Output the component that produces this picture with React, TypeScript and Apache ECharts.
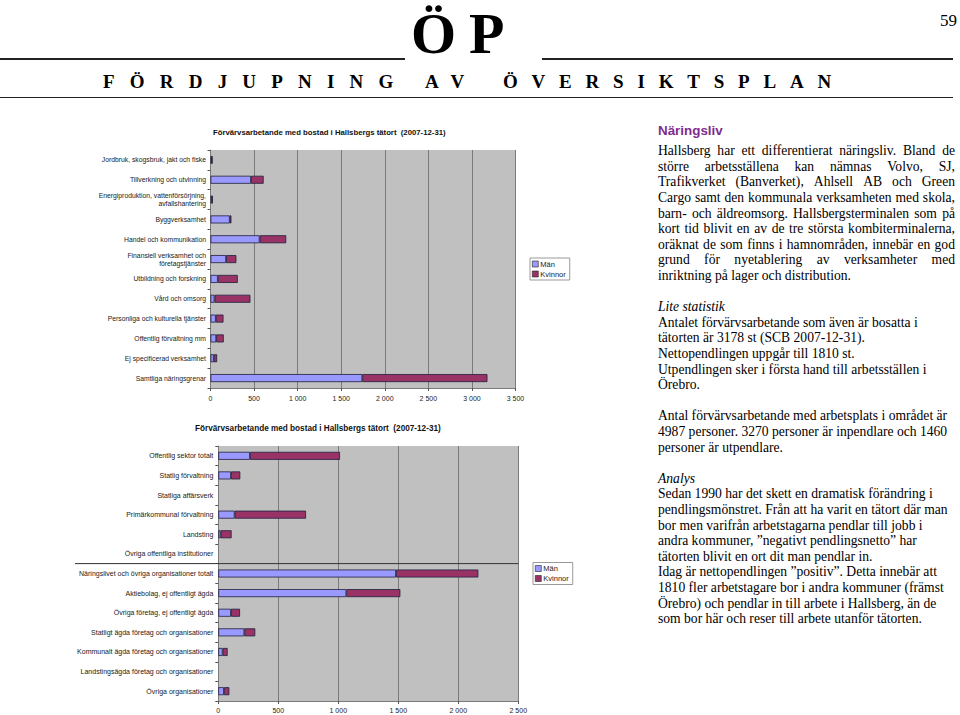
import React, { useEffect, useRef } from "react";
import * as echarts from "echarts";

// ---------- DATA ----------
const industryCategories = [
  "Jordbruk, skogsbruk, jakt och fiske",
  "Tillverkning och utvinning",
  "Energiproduktion, vattenförsörjning,\navfallshantering",
  "Byggverksamhet",
  "Handel och kommunikation",
  "Finansiell verksamhet och\nföretagstjänster",
  "Utbildning och forskning",
  "Vård och omsorg",
  "Personliga och kulturella tjänster",
  "Offentlig förvaltning mm",
  "Ej specificerad verksamhet",
  "Samtliga näringsgrenar",
];
const industryMen = [15, 465, 18, 221, 564, 179, 84, 46, 61, 65, 38, 1742];
const industryWomen = [8, 145, 6, 19, 305, 118, 229, 412, 88, 87, 38, 1436];
const industryTicks = [0, 500, 1000, 1500, 2000, 2500, 3000, 3500];

const sectorCategories = [
  "Offentlig sektor totalt",
  "Statlig förvaltning",
  "Statliga affärsverk",
  "Primärkommunal förvaltning",
  "Landsting",
  "Övriga offentliga institutioner",
  "Näringslivet och övriga organisationer totalt",
  "Aktiebolag, ej offentligt ägda",
  "Övriga företag, ej offentligt ägda",
  "Statligt ägda företag och organisationer",
  "Kommunalt ägda företag och organisationer",
  "Landstingsägda företag och organisationer",
  "Övriga organisationer",
];
const sectorMen = [264, 106, 0, 136, 19, 0, 1481, 1067, 106, 217, 36, 0, 47];
const sectorWomen = [750, 77, 0, 595, 92, 0, 686, 450, 75, 91, 42, 0, 45];
const sectorTicks = [0, 500, 1000, 1500, 2000, 2500];

const seriesNames = ["Män", "Kvinnor"];
const chartTitle = "Förvärvsarbetande med bostad i Hallsbergs tätort  (2007-12-31)";

const headerLetters = "Ö P";
const headerWords = ["FÖRDJUPNING", "AV", "ÖVERSIKTSPLAN"];
const pageNumber = "59";
const sectionHeading = "Näringsliv";

// kind: j = justified, l = left, i = italic, b = blank
const bodyLines: [string, string][] = [
  ["j", "Hallsberg har ett differentierat näringsliv. Bland de"],
  ["j", "större arbetsställena kan nämnas Volvo, SJ,"],
  ["j", "Trafikverket (Banverket), Ahlsell AB och Green"],
  ["j", "Cargo samt den kommunala verksamheten med skola,"],
  ["j", "barn- och äldreomsorg. Hallsbergsterminalen som på"],
  ["j", "kort tid blivit en av de tre största kombiterminalerna,"],
  ["j", "oräknat de som finns i hamnområden, innebär en god"],
  ["j", "grund för nyetablering av verksamheter med"],
  ["l", "inriktning på lager och distribution."],
  ["b", ""],
  ["i", "Lite statistik"],
  ["l", "Antalet förvärvsarbetande som även är bosatta i"],
  ["l", "tätorten är 3178 st (SCB 2007-12-31)."],
  ["l", "Nettopendlingen uppgår till 1810 st."],
  ["l", "Utpendlingen sker i första hand till arbetsställen i"],
  ["l", "Örebro."],
  ["b", ""],
  ["l", "Antal förvärvsarbetande med arbetsplats i området är"],
  ["l", "4987 personer. 3270 personer är inpendlare och 1460"],
  ["l", "personer är utpendlare."],
  ["b", ""],
  ["i", "Analys"],
  ["l", "Sedan 1990 har det skett en dramatisk förändring i"],
  ["l", "pendlingsmönstret. Från att ha varit en tätort där man"],
  ["l", "bor men varifrån arbetstagarna pendlar till jobb i"],
  ["l", "andra kommuner, ”negativt pendlingsnetto” har"],
  ["l", "tätorten blivit en ort dit man pendlar in."],
  ["l", "Idag är nettopendlingen ”positiv”. Detta innebär att"],
  ["l", "1810 fler arbetstagare bor i andra kommuner (främst"],
  ["l", "Örebro) och pendlar in till arbete i Hallsberg, än de"],
  ["l", "som bor här och reser till arbete utanför tätorten."],
];

// ---------- STYLE ----------
const SANS = "'Liberation Sans', Arial, sans-serif";
const SERIF = "'Liberation Serif', 'Times New Roman', serif";
const MEN_COLOR = "#9999FF";
const WOMEN_COLOR = "#993366";
const BAR_BORDER = "#1e1e3c";

const fmt = (v: number) =>
  v >= 1000 ? `${Math.floor(v / 1000)} ${String(v % 1000).padStart(3, "0")}` : `${v}`;

function makeOption() {
  const grid0 = { left: 210.5, top: 150, width: 305, height: 238 };
  const grid1 = { left: 218.3, top: 446, width: 300, height: 255 };
  const valueAxis = (gi: number, ticks: number[], margin: number) => ({
    type: "value",
    gridIndex: gi,
    min: ticks[0],
    max: ticks[ticks.length - 1],
    interval: ticks[1] - ticks[0],
    splitLine: { show: true, lineStyle: { color: "#7a7a7a", width: 1 } },
    axisLine: { show: true, lineStyle: { color: "#7a7a7a", width: 1 } },
    axisTick: { show: true, length: 3, lineStyle: { color: "#555" } },
    axisLabel: {
      fontSize: 7,
      color: "#222",
      fontFamily: SANS,
      margin,
      formatter: fmt,
    },
  });
  const catAxis = (gi: number, data: string[], fontSize: number, margin: number) => ({
    type: "category",
    gridIndex: gi,
    data,
    inverse: true,
    axisLine: { show: true, lineStyle: { color: "#7a7a7a", width: 1 } },
    axisTick: { show: true, length: 3, lineStyle: { color: "#555" } },
    axisLabel: {
      fontSize,
      lineHeight: fontSize + 1.2,
      color: "#1a1a1a",
      fontFamily: SANS,
      margin,
      interval: 0,
      align: "right",
    },
  });
  const bar = (name: string, data: number[], idx: number, color: string) => ({
    name,
    type: "bar",
    stack: "s" + idx,
    xAxisIndex: idx,
    yAxisIndex: idx,
    // empty cells (0) draw no bar at all
    data: data.map((v) => (v === 0 ? "-" : v)),
    barWidth: 8,
    itemStyle: { color, borderColor: BAR_BORDER, borderWidth: 0.8 },
  });
  const legend = (left: number, top: number) => ({
    data: seriesNames,
    orient: "vertical",
    left,
    top,
    itemWidth: 6,
    itemHeight: 6,
    itemGap: 2,
    icon: "rect",
    padding: [2, 4, 2, 2],
    borderColor: "#999",
    borderWidth: 1,
    selectedMode: false,
    itemStyle: { borderWidth: 0.6, borderColor: "#222" },
    textStyle: { fontSize: 7.5, color: "#222", fontFamily: SANS, padding: [0, 0, 0, -3] },
  });
  return {
    animation: false,
    backgroundColor: "transparent",
    title: [
      {
        text: chartTitle,
        left: 213,
        top: 128.5,
        padding: 0,
        textStyle: { fontSize: 7.75, fontWeight: "bold", color: "#111", fontFamily: SANS },
      },
      {
        text: chartTitle,
        left: 195,
        top: 424.5,
        padding: 0,
        textStyle: { fontSize: 8.2, fontWeight: "bold", color: "#111", fontFamily: SANS },
      },
    ],
    legend: [legend(530, 258), legend(533, 562.5)],
    grid: [
      { ...grid0, show: true, backgroundColor: "#C0C0C0", borderWidth: 0 },
      { ...grid1, show: true, backgroundColor: "#C0C0C0", borderWidth: 0 },
    ],
    xAxis: [valueAxis(0, industryTicks, 7), valueAxis(1, sectorTicks, 6)],
    yAxis: [catAxis(0, industryCategories, 6.8, 4.5), catAxis(1, sectorCategories, 7, 5)],
    series: [
      bar(seriesNames[0], industryMen, 0, MEN_COLOR),
      bar(seriesNames[1], industryWomen, 0, WOMEN_COLOR),
      bar(seriesNames[0], sectorMen, 1, MEN_COLOR),
      bar(seriesNames[1], sectorWomen, 1, WOMEN_COLOR),
    ],
    graphic: [
      {
        type: "line",
        shape: { x1: 75, y1: 563.6, x2: 518.3, y2: 563.6 },
        style: { stroke: "#333", lineWidth: 1 },
        z: 100,
      },
    ],
  };
}

export default function App() {
  const ref = useRef<HTMLDivElement>(null);
  useEffect(() => {
    const chart = echarts.init(ref.current!, null, { renderer: "svg" });
    chart.setOption(makeOption() as any);
    return () => chart.dispose();
  }, []);

  const lineH = 15.6;
  const hr = (left: number, top: number, width: number) => (
    <div style={{ position: "absolute", left, top, width, height: 1.5, background: "#222" }} />
  );

  return (
    <div
      style={{
        position: "fixed",
        left: 0,
        top: 0,
        width: 960,
        height: 715,
        background: "#fff",
        overflow: "hidden",
        color: "#000",
      }}
    >
      <div ref={ref} style={{ position: "absolute", left: 0, top: 0, width: 960, height: 715 }} />

      {/* header */}
      <div
        style={{
          position: "absolute",
          left: 411,
          top: 5,
          fontFamily: SERIF,
          fontWeight: "bold",
          fontSize: 58,
          lineHeight: "58px",
          whiteSpace: "pre",
        }}
      >
        {headerLetters.split(" ")[0]}
      </div>
      <div
        style={{
          position: "absolute",
          left: 469,
          top: 5,
          fontFamily: SERIF,
          fontWeight: "bold",
          fontSize: 58,
          lineHeight: "58px",
        }}
      >
        {headerLetters.split(" ")[1]}
      </div>
      {hr(0, 58, 405)}
      {hr(542, 58, 411)}
      {[
        { w: headerWords[0], left: 103, ls: 15.2 },
        { w: headerWords[1], left: 425, ls: 14.3 },
        { w: headerWords[2], left: 503, ls: 13.8 },
      ].map((o) => (
        <div
          key={o.w}
          style={{
            position: "absolute",
            left: o.left,
            top: 71.6,
            fontFamily: SERIF,
            fontWeight: "bold",
            fontSize: 19,
            lineHeight: "19px",
            letterSpacing: o.ls,
            whiteSpace: "nowrap",
          }}
        >
          {o.w}
        </div>
      ))}
      {hr(0, 96.5, 953)}
      <div
        style={{
          position: "absolute",
          left: 940,
          top: 11.5,
          fontFamily: SERIF,
          fontSize: 17,
          lineHeight: "17px",
        }}
      >
        {pageNumber}
      </div>

      {/* right column */}
      <div
        style={{
          position: "absolute",
          left: 658,
          top: 122.9,
          fontFamily: SANS,
          fontWeight: "bold",
          fontSize: 13.4,
          lineHeight: "15px",
          color: "#7F2B8F",
        }}
      >
        {sectionHeading}
      </div>
      <div
        style={{
          position: "absolute",
          left: 658,
          top: 143.3,
          width: 297,
          fontFamily: SERIF,
          fontSize: 13.6,
          lineHeight: lineH + "px",
        }}
      >
        {bodyLines.map(([kind, text], i) => {
          if (kind === "b") return <div key={i} style={{ height: lineH }} />;
          if (kind === "j") {
            return (
              <div
                key={i}
                style={{ display: "flex", justifyContent: "space-between", height: lineH, whiteSpace: "nowrap" }}
              >
                {text.split(" ").map((w, k) => (
                  <span key={k}>{w}</span>
                ))}
              </div>
            );
          }
          return (
            <div
              key={i}
              style={{ height: lineH, whiteSpace: "nowrap", fontStyle: kind === "i" ? "italic" : "normal" }}
            >
              {text}
            </div>
          );
        })}
      </div>
    </div>
  );
}
